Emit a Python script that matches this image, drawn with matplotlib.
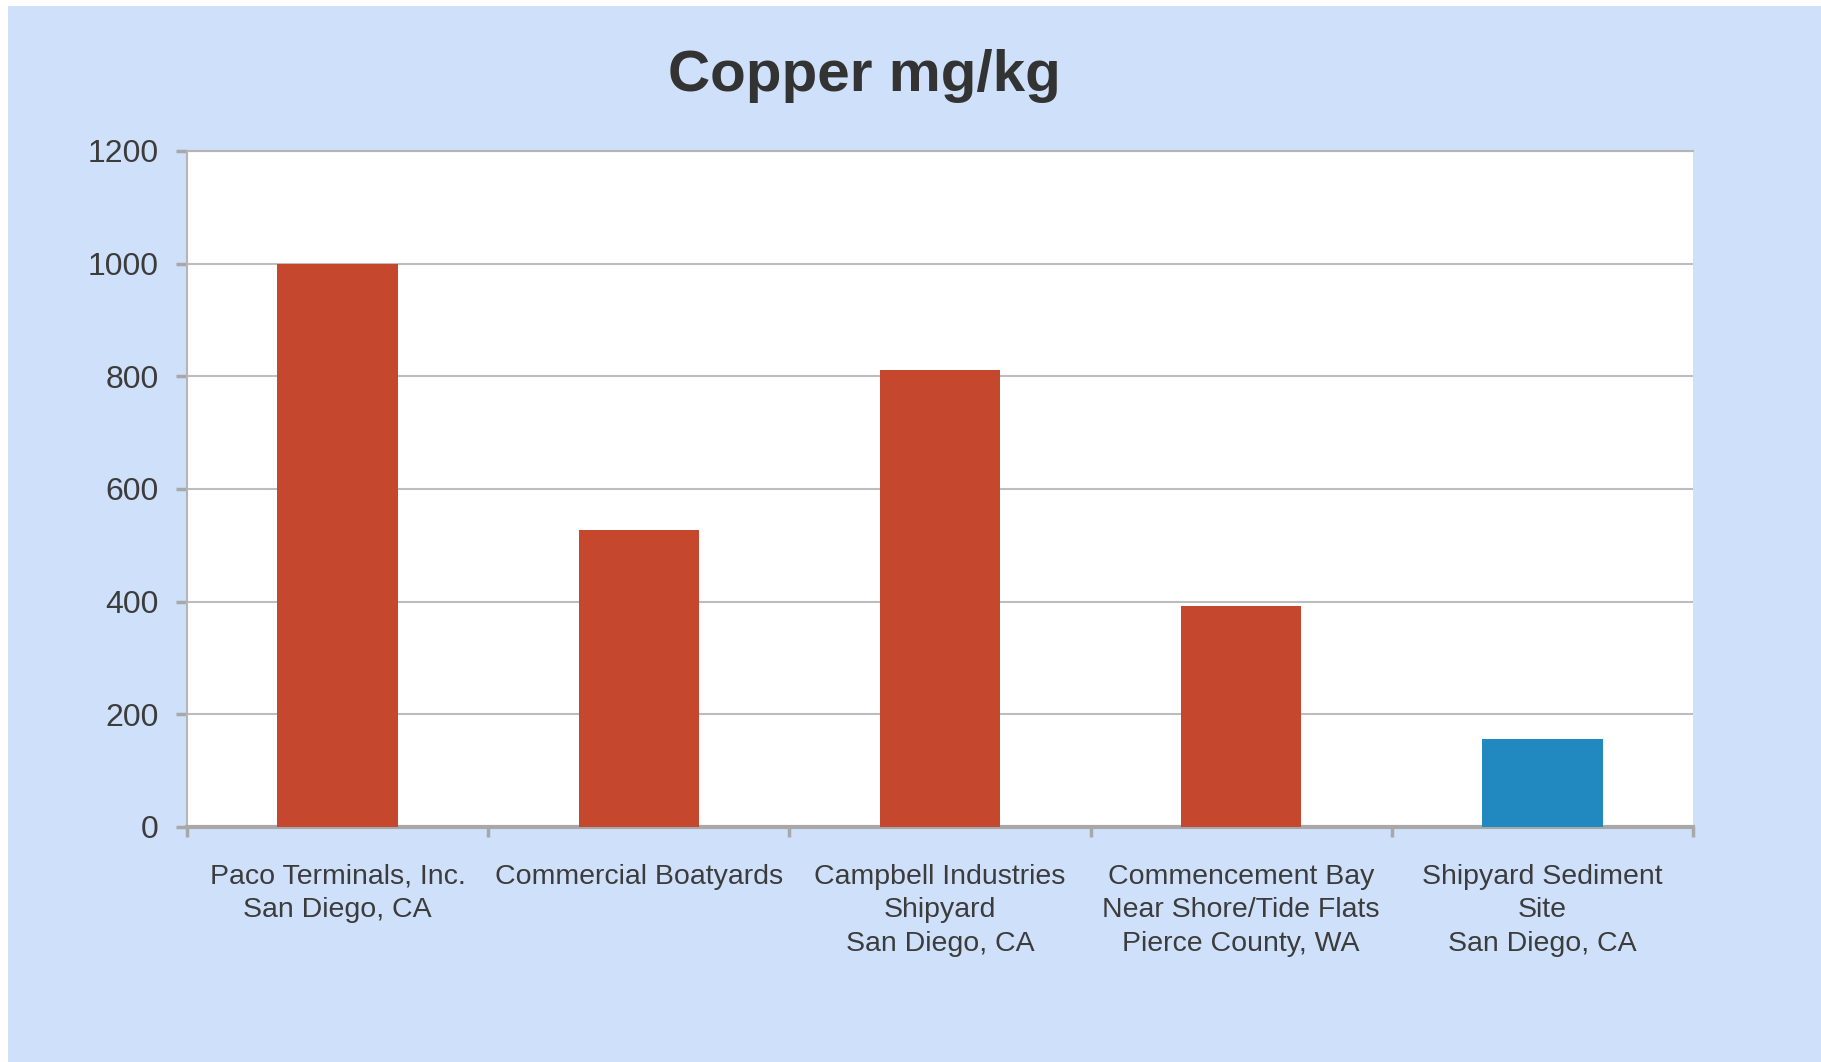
import numpy as np
import matplotlib.pyplot as plt
from matplotlib.patches import Rectangle

# data
sites = [
    "Paco Terminals, Inc.\nSan Diego, CA",
    "Commercial Boatyards",
    "Campbell Industries\nShipyard\nSan Diego, CA",
    "Commencement Bay\nNear Shore/Tide Flats\nPierce County, WA",
    "Shipyard Sediment\nSite\nSan Diego, CA",
]
copper = [1000, 528, 812, 392, 157]
bar_colors = ["#c5472e", "#c5472e", "#c5472e", "#c5472e", "#2188c0"]
yticks = [0, 200, 400, 600, 800, 1000, 1200]

plt.rcParams["font.family"] = ["Liberation Sans", "DejaVu Sans"]

fig = plt.figure(figsize=(18.21, 10.62), dpi=100, facecolor="white")
# light blue slide background, thin white strip on left/top
fig.patches.append(Rectangle((8 / 1821, 0), 1, 1 - 6 / 1062,
                             transform=fig.transFigure, facecolor="#cfe1fa",
                             edgecolor="none", zorder=-10))

ax = fig.add_axes([187 / 1821, 1 - 827 / 1062, 1506 / 1821, 676 / 1062])
ax.set_facecolor("white")

x = np.arange(len(sites))
ax.bar(x, copper, width=0.40, color=bar_colors, zorder=3)

ax.set_xlim(-0.5, len(sites) - 0.5)
ax.set_ylim(0, 1200)
ax.set_yticks(yticks)
ax.set_yticklabels([str(v) for v in yticks])
ax.yaxis.grid(True, color="#bdbdbd", linewidth=1.5, zorder=0)

# ticks at category boundaries, labels at centres
ax.set_xticks(np.arange(len(sites) + 1) - 0.5)
ax.set_xticklabels([])
ax.set_xticks(x, minor=True)
ax.set_xticklabels(sites, minor=True, fontsize=20.5, color="#3c3c3c",
                   linespacing=1.38)
ax.tick_params(axis="x", which="major", length=7, width=2.5, color="#a8a8a8")
ax.tick_params(axis="x", which="minor", length=0, pad=26.5)
ax.tick_params(axis="y", length=8, width=2.5, color="#a8a8a8",
               labelsize=23, labelcolor="#3c3c3c", pad=12.5)

for s in ["left", "top"]:
    ax.spines[s].set_color("#b5b5b5")
    ax.spines[s].set_linewidth(1.5)
ax.spines["right"].set_visible(False)
ax.spines["bottom"].set_color("#a8a8a8")
ax.spines["bottom"].set_linewidth(3)

fig.text(864 / 1821, 1 - 76 / 1062, "Copper mg/kg", ha="center", va="center",
         fontsize=42, fontweight="bold", color="#333333")

fig.savefig("out.png", dpi=100, facecolor=fig.get_facecolor())
